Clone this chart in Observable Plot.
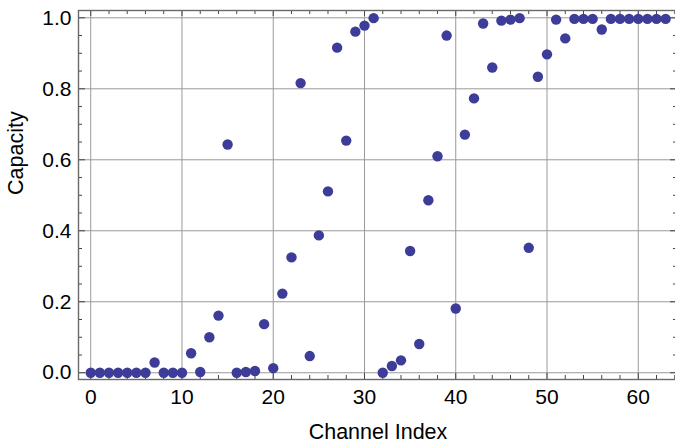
<!DOCTYPE html>
<html>
<head>
<meta charset="utf-8">
<script src="https://cdn.jsdelivr.net/npm/d3@7"></script>
<script src="https://cdn.jsdelivr.net/npm/@observablehq/plot@0.6"></script>
<style>
  body { margin: 0; background: #fff; }
  #chart svg { display: block; }
</style>
</head>
<body>
<div id="chart"></div>
<script>
const channel = [0,1,2,3,4,5,6,7,8,9,10,11,12,13,14,15,16,17,18,19,20,21,22,23,24,25,26,27,28,29,30,31,
  32,33,34,35,36,37,38,39,40,41,42,43,44,45,46,47,48,49,50,51,52,53,54,55,56,57,58,59,60,61,62,63];
const capacity = [0,0,0,0,0,0,0,0.029,0,0,0,0.055,0.002,0.100,0.161,0.643,
  0,0.002,0.005,0.137,0.013,0.223,0.325,0.816,0.047,0.387,0.511,0.916,0.654,0.961,0.978,0.999,
  0,0.019,0.035,0.343,0.081,0.486,0.610,0.950,0.181,0.671,0.773,0.984,0.860,0.992,0.995,0.999,
  0.352,0.834,0.897,0.995,0.942,0.997,0.997,0.997,0.967,0.997,0.997,0.997,0.997,0.997,0.997,0.997];

const xMajor = [0,10,20,30,40,50,60];
const xMinor = [2,4,6,8,12,14,16,18,22,24,26,28,32,34,36,38,42,44,46,48,52,54,56,58,62,64];
const yMajor = [0,0.2,0.4,0.6,0.8,1.0];
const yMajorLabels = ["0.0","0.2","0.4","0.6","0.8","1.0"];
const yMinor = [0.05,0.1,0.15,0.25,0.3,0.35,0.45,0.5,0.55,0.65,0.7,0.75,0.85,0.9,0.95];
const xLabel = "Channel Index";
const yLabel = "Capacity";

const data = channel.map((c, i) => ({channel: c, capacity: capacity[i]}));

const W = 675, H = 445, mT = 10, mB = 66, mL = 78, mR = -2;
const FH = H - mT - mB;
const FW = W - mL - mR;
const font = "'Liberation Sans', Arial, Helvetica, sans-serif";
const tickColor = "#444";

const chart = Plot.plot({
  width: W, height: H,
  marginTop: mT, marginBottom: mB, marginLeft: mL, marginRight: mR,
  style: {fontFamily: font, background: "#fff", overflow: "hidden"},
  x: {domain: [-1.34, 64.3], axis: null},
  y: {domain: [-0.019, 1.0206], axis: null},
  marks: [
    Plot.gridX(xMajor, {stroke: "#9a9a9a", strokeOpacity: 1, strokeWidth: 1}),
    Plot.gridY(yMajor, {stroke: "#9a9a9a", strokeOpacity: 1, strokeWidth: 1}),
    Plot.tickX(xMajor, {x: d => d, insetTop: FH - 6, stroke: tickColor, strokeWidth: 1}),
    Plot.tickX(xMinor, {x: d => d, insetTop: FH - 4, stroke: tickColor, strokeWidth: 1}),
    Plot.tickX(xMajor, {x: d => d, insetBottom: FH - 6, stroke: tickColor, strokeWidth: 1}),
    Plot.tickX(xMinor, {x: d => d, insetBottom: FH - 4, stroke: tickColor, strokeWidth: 1}),
    Plot.tickY(yMajor, {y: d => d, insetRight: FW - 7, stroke: tickColor, strokeWidth: 1}),
    Plot.tickY(yMinor, {y: d => d, insetRight: FW - 4, stroke: tickColor, strokeWidth: 1}),
    Plot.tickY(yMajor, {y: d => d, insetLeft: FW - 7, stroke: tickColor, strokeWidth: 1}),
    Plot.tickY(yMinor, {y: d => d, insetLeft: FW - 4, stroke: tickColor, strokeWidth: 1}),
    Plot.frame({stroke: "#6a6a6a", strokeWidth: 1.4}),
    Plot.dot(data, {x: "channel", y: "capacity", r: 5.2, fill: "#3d3d99", stroke: "none"}),
    Plot.text(xMajor, {x: d => d, frameAnchor: "bottom", dy: 18, lineAnchor: "middle",
      text: d => String(d), fontSize: 21, fill: "#000"}),
    Plot.text(yMajor, {y: d => d, frameAnchor: "left", dx: -7, textAnchor: "end", lineAnchor: "middle",
      text: (d, i) => yMajorLabels[i], fontSize: 21, fill: "#000"}),
    Plot.text([xLabel], {frameAnchor: "bottom", dy: 53, lineAnchor: "middle",
      text: d => d, fontSize: 21.5, fill: "#000"}),
    Plot.text([yLabel], {frameAnchor: "left", dx: -62, lineAnchor: "middle", rotate: -90,
      text: d => d, fontSize: 21.5, fill: "#000"})
  ]
});
document.getElementById("chart").appendChild(chart);
</script>
</body>
</html>
